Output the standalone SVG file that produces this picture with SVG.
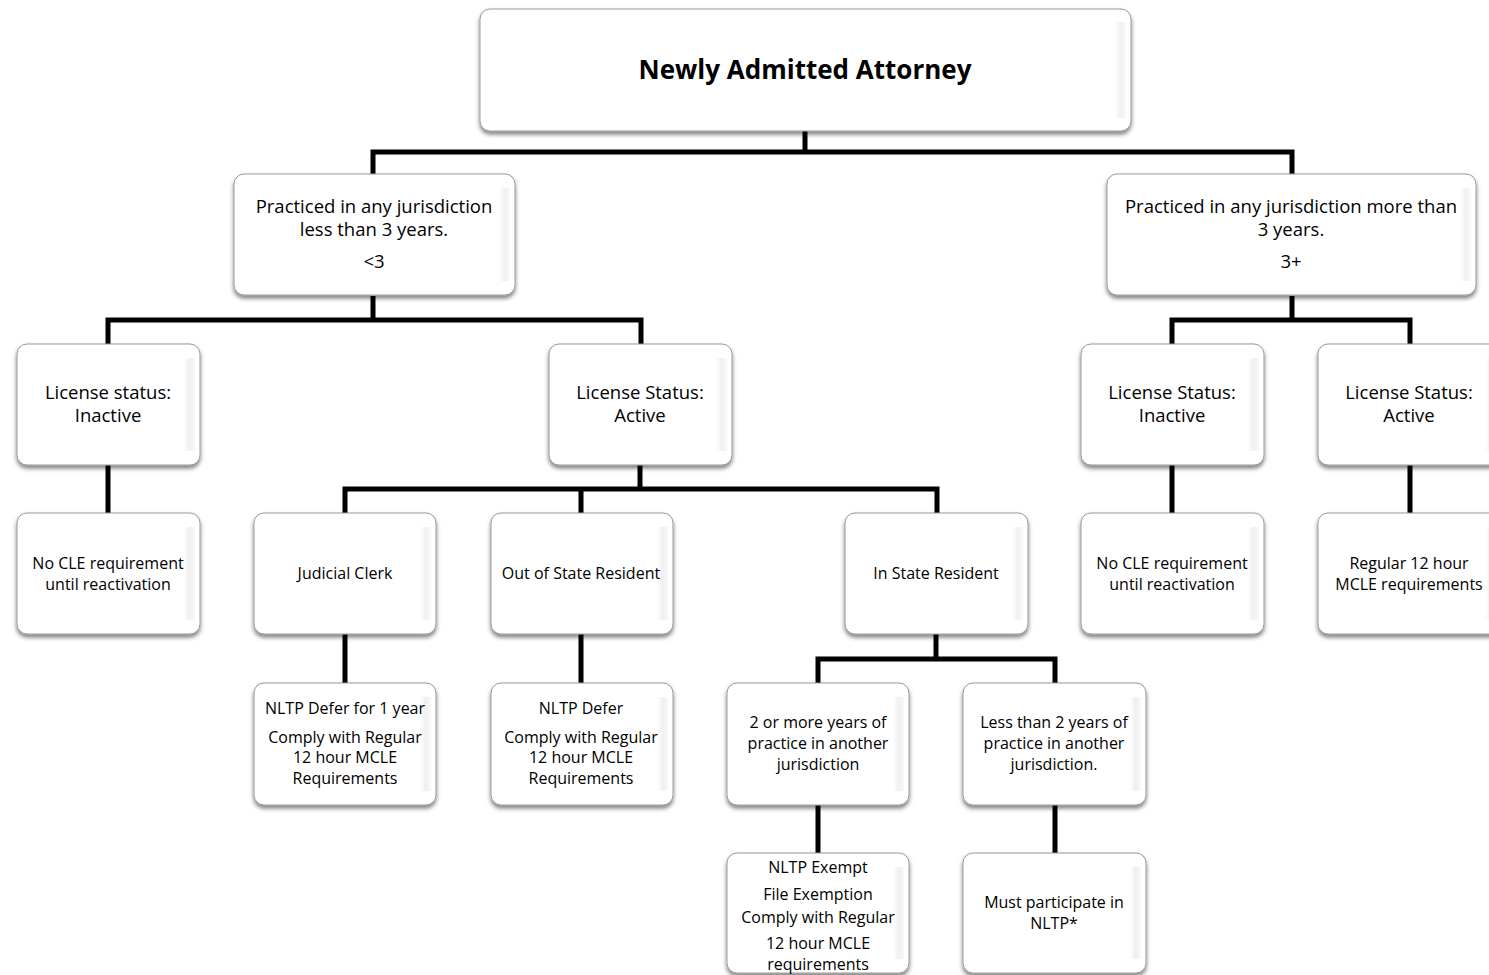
<svg xmlns="http://www.w3.org/2000/svg" width="1489" height="975" viewBox="0 0 1489 975">
<defs>
<filter id="sh" x="-10%" y="-10%" width="120%" height="130%">
<feDropShadow dx="0" dy="3" stdDeviation="2" flood-color="#000" flood-opacity="0.5"/>
</filter>
<linearGradient id="strip" x1="0" y1="0" x2="1" y2="0">
<stop offset="0" stop-color="#ffffff" stop-opacity="0"/>
<stop offset="0.55" stop-color="#efefef"/>
<stop offset="1" stop-color="#f8f8f8"/>
</linearGradient>
</defs>
<style>
.box{fill:#ffffff;stroke:#999999;stroke-width:1;filter:url(#sh)}
.strip{fill:url(#strip)}
.conn{fill:none;stroke:#000;stroke-width:5;stroke-linejoin:miter}
text{font-family:"Open Sans","Noto Sans",sans-serif;fill:#000;text-anchor:middle}
.t1{font-size:18.5px}
.t3{font-size:16px}
.root{font-size:26px;font-weight:bold}
</style>
<rect width="1489" height="975" fill="#ffffff"/>
<g id="connectors">
<path class="conn" d="M805 131V152M373 175V152H1292V175"/>
<path class="conn" d="M373 296V320M108 344V320H641V344"/>
<path class="conn" d="M1292 296V320M1172 344V320H1410V344"/>
<path class="conn" d="M108 465V513"/>
<path class="conn" d="M640 465V489M345 513V489H937V513M581 489V513"/>
<path class="conn" d="M1172 465V513M1410 465V513"/>
<path class="conn" d="M345 634V683M581 634V683"/>
<path class="conn" d="M936 634V659M818 683V659H1055V683"/>
<path class="conn" d="M818 805V853M1055 805V853"/>
</g>
<g id="n-root">
<rect class="box" x="480" y="9" width="651" height="122" rx="10"/>
<rect class="strip" x="1113" y="22" width="13" height="96"/>
<text class="root" x="805" y="79">Newly Admitted Attorney</text>
</g>
<g id="n-less3">
<rect class="box" x="234" y="174" width="281" height="121" rx="10"/>
<rect class="strip" x="497" y="188" width="13" height="93"/>
<text class="t1" x="374" y="213">Practiced in any jurisdiction</text>
<text class="t1" x="374" y="236">less than 3 years.</text>
<text class="t1" x="374" y="268">&lt;3</text>
</g>
<g id="n-more3">
<rect class="box" x="1107" y="174" width="369" height="121" rx="10"/>
<rect class="strip" x="1458" y="188" width="13" height="93"/>
<text class="t1" x="1291" y="213">Practiced in any jurisdiction more than</text>
<text class="t1" x="1291" y="236">3 years.</text>
<text class="t1" x="1291" y="268">3+</text>
</g>
<g id="n-inactive-l">
<rect class="box" x="17" y="344" width="183" height="121" rx="10"/>
<rect class="strip" x="182" y="358" width="13" height="93"/>
<text class="t1" x="108" y="399">License status:</text>
<text class="t1" x="108" y="422">Inactive</text>
</g>
<g id="n-active-l">
<rect class="box" x="549" y="344" width="183" height="121" rx="10"/>
<rect class="strip" x="714" y="358" width="13" height="93"/>
<text class="t1" x="640" y="399">License Status:</text>
<text class="t1" x="640" y="422">Active</text>
</g>
<g id="n-inactive-r">
<rect class="box" x="1081" y="344" width="183" height="121" rx="10"/>
<rect class="strip" x="1246" y="358" width="13" height="93"/>
<text class="t1" x="1172" y="399">License Status:</text>
<text class="t1" x="1172" y="422">Inactive</text>
</g>
<g id="n-active-r">
<rect class="box" x="1318" y="344" width="183" height="121" rx="10"/>
<rect class="strip" x="1483" y="358" width="13" height="93"/>
<text class="t1" x="1409" y="399">License Status:</text>
<text class="t1" x="1409" y="422">Active</text>
</g>
<g id="n-nocle-l">
<rect class="box" x="17" y="513" width="183" height="121" rx="10"/>
<rect class="strip" x="182" y="527" width="13" height="93"/>
<text class="t3" x="108" y="569">No CLE requirement</text>
<text class="t3" x="108" y="590">until reactivation</text>
</g>
<g id="n-clerk">
<rect class="box" x="254" y="513" width="182" height="121" rx="10"/>
<rect class="strip" x="418" y="527" width="13" height="93"/>
<text class="t3" x="345" y="579">Judicial Clerk</text>
</g>
<g id="n-outstate">
<rect class="box" x="491" y="513" width="182" height="121" rx="10"/>
<rect class="strip" x="655" y="527" width="13" height="93"/>
<text class="t3" x="581" y="579">Out of State Resident</text>
</g>
<g id="n-instate">
<rect class="box" x="845" y="513" width="183" height="121" rx="10"/>
<rect class="strip" x="1010" y="527" width="13" height="93"/>
<text class="t3" x="936" y="579">In State Resident</text>
</g>
<g id="n-nocle-r">
<rect class="box" x="1081" y="513" width="183" height="121" rx="10"/>
<rect class="strip" x="1246" y="527" width="13" height="93"/>
<text class="t3" x="1172" y="569">No CLE requirement</text>
<text class="t3" x="1172" y="590">until reactivation</text>
</g>
<g id="n-regular">
<rect class="box" x="1318" y="513" width="183" height="121" rx="10"/>
<rect class="strip" x="1483" y="527" width="13" height="93"/>
<text class="t3" x="1409" y="569">Regular 12 hour</text>
<text class="t3" x="1409" y="590">MCLE requirements</text>
</g>
<g id="n-defer1">
<rect class="box" x="254" y="683" width="182" height="122" rx="10"/>
<rect class="strip" x="418" y="697" width="13" height="94"/>
<text class="t3" x="345" y="714">NLTP Defer for 1 year</text>
<text class="t3" x="345" y="743">Comply with Regular</text>
<text class="t3" x="345" y="763">12 hour MCLE</text>
<text class="t3" x="345" y="784">Requirements</text>
</g>
<g id="n-defer">
<rect class="box" x="491" y="683" width="182" height="122" rx="10"/>
<rect class="strip" x="655" y="697" width="13" height="94"/>
<text class="t3" x="581" y="714">NLTP Defer</text>
<text class="t3" x="581" y="743">Comply with Regular</text>
<text class="t3" x="581" y="763">12 hour MCLE</text>
<text class="t3" x="581" y="784">Requirements</text>
</g>
<g id="n-2plus">
<rect class="box" x="727" y="683" width="182" height="122" rx="10"/>
<rect class="strip" x="891" y="697" width="13" height="94"/>
<text class="t3" x="818" y="728">2 or more years of</text>
<text class="t3" x="818" y="749">practice in another</text>
<text class="t3" x="818" y="770">jurisdiction</text>
</g>
<g id="n-less2">
<rect class="box" x="963" y="683" width="183" height="122" rx="10"/>
<rect class="strip" x="1128" y="697" width="13" height="94"/>
<text class="t3" x="1054" y="728">Less than 2 years of</text>
<text class="t3" x="1054" y="749">practice in another</text>
<text class="t3" x="1054" y="770">jurisdiction.</text>
</g>
<g id="n-exempt">
<rect class="box" x="727" y="853" width="182" height="120" rx="10"/>
<rect class="strip" x="891" y="867" width="13" height="92"/>
<text class="t3" x="818" y="873">NLTP Exempt</text>
<text class="t3" x="818" y="900">File Exemption</text>
<text class="t3" x="818" y="923">Comply with Regular</text>
<text class="t3" x="818" y="949">12 hour MCLE</text>
<text class="t3" x="818" y="970">requirements</text>
</g>
<g id="n-must">
<rect class="box" x="963" y="853" width="183" height="120" rx="10"/>
<rect class="strip" x="1128" y="867" width="13" height="92"/>
<text class="t3" x="1054" y="908">Must participate in</text>
<text class="t3" x="1054" y="929">NLTP*</text>
</g>
</svg>
